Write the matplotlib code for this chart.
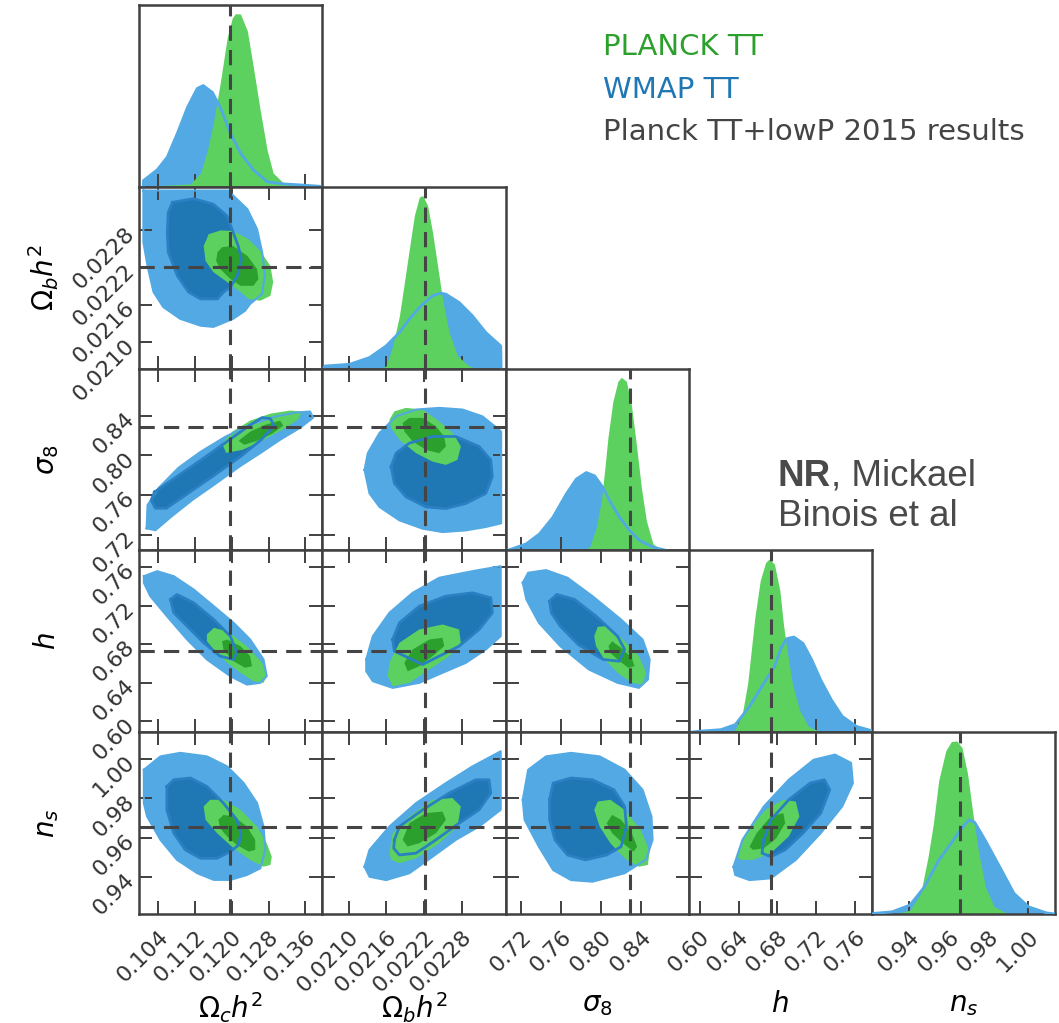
import matplotlib
matplotlib.use('Agg')
import matplotlib.pyplot as plt

# parameters: labels, axis ranges, ticks, reference (Planck 2015) values
labels = [r'$\Omega_c h^2$', r'$\Omega_b h^2$', r'$\sigma_8$', r'$h$', r'$n_s$']
limits = [(0.0999, 0.1397), (0.02058, 0.02350), (0.7043, 0.8873),
          (0.5887, 0.7771), (0.9211, 1.0137)]
ticks = [[0.104, 0.112, 0.120, 0.128, 0.136],
         [0.0210, 0.0216, 0.0222, 0.0228],
         [0.72, 0.76, 0.80, 0.84],
         [0.60, 0.64, 0.68, 0.72, 0.76],
         [0.94, 0.96, 0.98, 1.00]]
tick_text = [['0.104', '0.112', '0.120', '0.128', '0.136'],
             ['0.0210', '0.0216', '0.0222', '0.0228'],
             ['0.72', '0.76', '0.80', '0.84'],
             ['0.60', '0.64', '0.68', '0.72', '0.76'],
             ['0.94', '0.96', '0.98', '1.00']]
truth = [0.1197, 0.02222, 0.829, 0.6731, 0.9655]

# 1D marginals (value, density relative to the Planck peak)
planck_och2 = [(0.1000, 0), (0.1110, 0.017), (0.1132, 0.08), (0.1147, 0.21), (0.1160, 0.37),
               (0.1175, 0.60), (0.1190, 0.86), (0.1201, 0.975), (0.1208, 1.0), (0.1219, 0.998),
               (0.1234, 0.90), (0.1247, 0.69), (0.1262, 0.44), (0.1277, 0.21), (0.1290, 0.08),
               (0.1312, 0.023), (0.1349, 0.011), (0.1397, 0)]
wmap_och2 = [(0.1008, 0), (0.1008, 0.035), (0.1010, 0.040), (0.1038, 0.098), (0.1060, 0.172),
             (0.1082, 0.31), (0.1104, 0.46), (0.1125, 0.568), (0.1138, 0.585), (0.1158, 0.545),
             (0.1175, 0.46), (0.1197, 0.31), (0.1219, 0.195), (0.1247, 0.098), (0.1277, 0.029),
             (0.1312, 0.017), (0.1349, 0.011), (0.1392, 0.003)]
planck_obh2 = [(0.02150, 0), (0.021596, 0.015), (0.021701, 0.131), (0.021808, 0.305),
               (0.021887, 0.498), (0.021966, 0.691), (0.022046, 0.884), (0.022125, 0.991),
               (0.022178, 1.0), (0.022257, 0.942), (0.022336, 0.788), (0.022416, 0.594),
               (0.022495, 0.401), (0.022601, 0.209), (0.022733, 0.073), (0.022919, 0.015),
               (0.02305, 0)]
wmap_obh2 = [(0.02060, 0), (0.020617, 0.015), (0.021014, 0.025), (0.021331, 0.064),
             (0.021596, 0.131), (0.021808, 0.209), (0.021966, 0.286), (0.022152, 0.363),
             (0.022336, 0.421), (0.022470, 0.436), (0.022549, 0.430), (0.022760, 0.382),
             (0.022972, 0.305), (0.023184, 0.209), (0.023423, 0.131), (0.023430, 0)]
planck_s8 = [(0.780, 0), (0.7883, 0.019), (0.7950, 0.134), (0.8000, 0.287), (0.8033, 0.46),
             (0.8066, 0.651), (0.8116, 0.862), (0.8166, 0.977), (0.8200, 1.0), (0.8250, 0.977),
             (0.8300, 0.843), (0.8350, 0.613), (0.8400, 0.364), (0.8450, 0.172),
             (0.8516, 0.038), (0.8583, 0.011), (0.866, 0)]
wmap_s8 = [(0.7043, 0), (0.7083, 0.004), (0.7250, 0.038), (0.7383, 0.096), (0.7516, 0.191),
           (0.7650, 0.326), (0.7750, 0.412), (0.7850, 0.45), (0.7933, 0.431), (0.8016, 0.364),
           (0.8083, 0.287), (0.8183, 0.191), (0.8283, 0.115), (0.8383, 0.057),
           (0.8516, 0.019), (0.8650, 0.0)]
planck_h = [(0.628, 0), (0.6366, 0.015), (0.6440, 0.111), (0.6494, 0.283), (0.6531, 0.474),
            (0.6568, 0.665), (0.6623, 0.876), (0.6678, 0.98), (0.6714, 1.0), (0.6769, 0.971),
            (0.6825, 0.818), (0.6861, 0.627), (0.6898, 0.474), (0.6953, 0.283), (0.7026, 0.13),
            (0.7117, 0.034), (0.7210, 0.011), (0.728, 0)]
wmap_h = [(0.590, 0), (0.6000, 0.006), (0.6219, 0.015), (0.6366, 0.044), (0.6513, 0.149),
          (0.6660, 0.283), (0.6769, 0.378), (0.6842, 0.493), (0.6898, 0.541), (0.6970, 0.55),
          (0.7063, 0.513), (0.7154, 0.417), (0.7245, 0.302), (0.7355, 0.187), (0.7466, 0.092),
          (0.7612, 0.034), (0.7762, 0.01)]
planck_ns = [(0.933, 0), (0.9404, 0.023), (0.9458, 0.119), (0.9495, 0.329), (0.9522, 0.521),
             (0.9549, 0.77), (0.9585, 0.943), (0.9613, 0.996), (0.9640, 1.0), (0.9667, 0.961),
             (0.9695, 0.81), (0.9722, 0.58), (0.9749, 0.368), (0.9785, 0.157), (0.9830, 0.042),
             (0.9893, 0.006), (0.995, 0)]
wmap_ns = [(0.9211, 0), (0.9223, 0.004), (0.9314, 0.013), (0.9404, 0.052), (0.9477, 0.157),
           (0.9549, 0.31), (0.9622, 0.425), (0.9676, 0.511), (0.9703, 0.544), (0.9731, 0.53),
           (0.9785, 0.425), (0.9858, 0.272), (0.9930, 0.119), (1.0003, 0.042),
           (1.0093, 0.007), (1.0137, 0)]

# 2D contours (x = column parameter, y = row parameter): 2 sigma and 1 sigma outlines
# Omega_b h^2 vs Omega_c h^2
wmap2_obh2_och2 = [(0.1008, 0.02344), (0.1192, 0.02344), (0.1234, 0.02314), (0.1255, 0.02282),
                   (0.1266, 0.02245), (0.1272, 0.02210), (0.1266, 0.02178), (0.1240, 0.02162),
                   (0.1229, 0.02151), (0.1203, 0.02138), (0.1160, 0.02125), (0.1132, 0.02127),
                   (0.1088, 0.02138), (0.1051, 0.02157), (0.1030, 0.02181), (0.1017, 0.02223),
                   (0.1008, 0.02261)]
wmap1_obh2_och2 = [(0.1071, 0.02325), (0.1117, 0.02331), (0.1160, 0.02322), (0.1190, 0.02303),
                   (0.1203, 0.02277), (0.1214, 0.02255), (0.1221, 0.02234), (0.1212, 0.02207),
                   (0.1197, 0.02189), (0.1182, 0.02181), (0.1169, 0.02170), (0.1132, 0.02170),
                   (0.1106, 0.02181), (0.1082, 0.02207), (0.1062, 0.02245), (0.1060, 0.02277),
                   (0.1062, 0.02309)]
planck2_obh2_och2 = [(0.1139, 0.02255), (0.1150, 0.02274), (0.1176, 0.02280), (0.1203, 0.02279),
                     (0.1236, 0.02266), (0.1262, 0.02247), (0.1284, 0.02223), (0.1290, 0.02197),
                     (0.1284, 0.02175), (0.1262, 0.02167), (0.1236, 0.02170), (0.1219, 0.02181),
                     (0.1190, 0.02197), (0.1160, 0.02213), (0.1143, 0.02231)]
planck1_obh2_och2 = [(0.1169, 0.02245), (0.1179, 0.02253), (0.1203, 0.02255), (0.1234, 0.02239),
                     (0.1255, 0.02218), (0.1258, 0.02202), (0.1247, 0.02191), (0.1219, 0.02191),
                     (0.1197, 0.02202), (0.1175, 0.02218), (0.1166, 0.02231)]
# sigma_8 vs Omega_c h^2
wmap2_s8_och2 = [(0.1015, 0.7266), (0.1017, 0.7499), (0.1041, 0.7671), (0.1084, 0.7874),
                 (0.1132, 0.8035), (0.1186, 0.8187), (0.1240, 0.8309), (0.1294, 0.8390),
                 (0.1338, 0.8430), (0.1370, 0.8441), (0.1377, 0.8380), (0.1349, 0.8279),
                 (0.1305, 0.8157), (0.1266, 0.8035), (0.1219, 0.7894), (0.1164, 0.7712),
                 (0.1114, 0.7550), (0.1067, 0.7377), (0.1034, 0.7246)]
wmap1_s8_och2 = [(0.1032, 0.7630), (0.1086, 0.7803), (0.1140, 0.7975), (0.1195, 0.8157),
                 (0.1238, 0.8299), (0.1266, 0.8380), (0.1284, 0.8370), (0.1292, 0.8299),
                 (0.1264, 0.8157), (0.1221, 0.7995), (0.1166, 0.7813), (0.1112, 0.7640),
                 (0.1058, 0.7468), (0.1034, 0.7468), (0.1025, 0.7549)]
planck2_s8_och2 = [(0.1179, 0.8116), (0.1201, 0.8238), (0.1240, 0.8349), (0.1284, 0.8420),
                   (0.1327, 0.8451), (0.1353, 0.8441), (0.1344, 0.8360), (0.1310, 0.8258),
                   (0.1266, 0.8147), (0.1223, 0.8055), (0.1188, 0.8025)]
planck1_s8_och2 = [(0.1215, 0.8147), (0.1240, 0.8238), (0.1273, 0.8309), (0.1305, 0.8349),
                   (0.1312, 0.8299), (0.1288, 0.8218), (0.1255, 0.8147), (0.1227, 0.8106)]
# h vs Omega_c h^2
wmap2_h_och2 = [(0.1009, 0.7504), (0.1038, 0.7556), (0.1074, 0.7504), (0.1117, 0.7367),
                (0.1161, 0.7193), (0.1204, 0.7021), (0.1240, 0.6848), (0.1269, 0.6641),
                (0.1276, 0.6468), (0.1262, 0.6399), (0.1233, 0.6381), (0.1197, 0.6468),
                (0.1146, 0.6641), (0.1103, 0.6848), (0.1059, 0.7090), (0.1023, 0.7297),
                (0.1009, 0.7436)]
wmap1_h_och2 = [(0.1067, 0.7263), (0.1081, 0.7315), (0.1117, 0.7229), (0.1161, 0.7055),
                (0.1197, 0.6882), (0.1211, 0.6710), (0.1204, 0.6641), (0.1175, 0.6675),
                (0.1139, 0.6814), (0.1103, 0.6986), (0.1074, 0.7125)]
planck2_h_och2 = [(0.1146, 0.6900), (0.1161, 0.6969), (0.1190, 0.6934), (0.1233, 0.6779),
                  (0.1266, 0.6607), (0.1276, 0.6468), (0.1269, 0.6399), (0.1247, 0.6416),
                  (0.1219, 0.6503), (0.1190, 0.6607), (0.1161, 0.6744), (0.1146, 0.6830)]
planck1_h_och2 = [(0.1179, 0.6830), (0.1190, 0.6848), (0.1219, 0.6779), (0.1240, 0.6675),
                  (0.1244, 0.6571), (0.1229, 0.6555), (0.1204, 0.6623), (0.1182, 0.6744)]
# n_s vs Omega_c h^2
wmap2_ns_och2 = [(0.1009, 0.9946), (0.1045, 1.0014), (0.1088, 1.0032), (0.1146, 1.0014),
                 (0.1190, 0.9963), (0.1226, 0.9878), (0.1255, 0.9776), (0.1269, 0.9657),
                 (0.1273, 0.9538), (0.1262, 0.9444), (0.1233, 0.9410), (0.1197, 0.9385),
                 (0.1161, 0.9385), (0.1125, 0.9419), (0.1081, 0.9487), (0.1045, 0.9589),
                 (0.1016, 0.9708), (0.1009, 0.9776)]
wmap1_ns_och2 = [(0.1059, 0.9861), (0.1074, 0.9895), (0.1110, 0.9904), (0.1146, 0.9861),
                 (0.1182, 0.9776), (0.1211, 0.9691), (0.1220, 0.9623), (0.1215, 0.9563),
                 (0.1197, 0.9529), (0.1168, 0.9495), (0.1132, 0.9495), (0.1099, 0.9538),
                 (0.1074, 0.9623), (0.1059, 0.9742)]
planck2_ns_och2 = [(0.1139, 0.9759), (0.1153, 0.9793), (0.1182, 0.9793), (0.1219, 0.9742),
                   (0.1255, 0.9657), (0.1276, 0.9572), (0.1287, 0.9503), (0.1284, 0.9461),
                   (0.1269, 0.9452), (0.1240, 0.9487), (0.1204, 0.9546), (0.1168, 0.9623),
                   (0.1143, 0.9691)]
planck1_ns_och2 = [(0.1171, 0.9691), (0.1182, 0.9716), (0.1204, 0.9708), (0.1233, 0.9657),
                   (0.1251, 0.9589), (0.1251, 0.9538), (0.1237, 0.9529), (0.1211, 0.9563),
                   (0.1190, 0.9606), (0.1175, 0.9648)]
# sigma_8 vs Omega_b h^2
wmap2_s8_obh2 = [(0.021252, 0.7853), (0.021304, 0.8022), (0.021490, 0.8225), (0.021755, 0.8393),
                 (0.022073, 0.8461), (0.022443, 0.8478), (0.022813, 0.8461), (0.023130, 0.8393),
                 (0.023396, 0.8258), (0.023430, 0.8238), (0.023430, 0.7316), (0.023184, 0.7279),
                 (0.022867, 0.7245), (0.022495, 0.7228), (0.022178, 0.7262), (0.021808, 0.7346),
                 (0.021490, 0.7481), (0.021331, 0.7617)]
wmap1_s8_obh2 = [(0.021676, 0.7886), (0.021755, 0.8022), (0.021966, 0.8123), (0.022336, 0.8190),
                 (0.022708, 0.8190), (0.023078, 0.8089), (0.023264, 0.7954), (0.023289, 0.7785),
                 (0.023184, 0.7617), (0.022867, 0.7516), (0.022549, 0.7465), (0.022232, 0.7481),
                 (0.021914, 0.7582), (0.021728, 0.7718)]
planck2_s8_obh2 = [(0.021649, 0.8359), (0.021728, 0.8443), (0.021914, 0.8478), (0.022178, 0.8461),
                   (0.022443, 0.8342), (0.022681, 0.8207), (0.022787, 0.8089), (0.022733, 0.7954),
                   (0.022549, 0.7904), (0.022336, 0.7937), (0.022073, 0.8022), (0.021808, 0.8157),
                   (0.021676, 0.8275)]
planck1_s8_obh2 = [(0.021860, 0.8326), (0.021966, 0.8377), (0.022178, 0.8377), (0.022390, 0.8292),
                   (0.022522, 0.8190), (0.022549, 0.8089), (0.022443, 0.8022), (0.022232, 0.8055),
                   (0.022019, 0.8140), (0.021887, 0.8241)]
# h vs Omega_b h^2
wmap2_h_obh2 = [(0.021279, 0.6641), (0.021384, 0.6882), (0.021649, 0.7125), (0.022019, 0.7332),
                (0.022443, 0.7488), (0.022972, 0.7556), (0.023423, 0.7608), (0.023423, 0.6882),
                (0.023184, 0.6744), (0.022867, 0.6606), (0.022495, 0.6503), (0.022125, 0.6399),
                (0.021701, 0.6347), (0.021384, 0.6416), (0.021279, 0.6519)]
wmap1_h_obh2 = [(0.021701, 0.6848), (0.021808, 0.7021), (0.022125, 0.7193), (0.022549, 0.7297),
                (0.022972, 0.7332), (0.023264, 0.7280), (0.023289, 0.7125), (0.023078, 0.6952),
                (0.022760, 0.6779), (0.022178, 0.6589), (0.021728, 0.6727)]
planck2_h_obh2 = [(0.021649, 0.6606), (0.021808, 0.6814), (0.022125, 0.6952), (0.022495, 0.7004),
                  (0.022760, 0.6952), (0.022787, 0.6814), (0.022601, 0.6675), (0.022284, 0.6537),
                  (0.021966, 0.6399), (0.021701, 0.6364), (0.021622, 0.6467)]
planck1_h_obh2 = [(0.021887, 0.6606), (0.022019, 0.6744), (0.022284, 0.6848), (0.022495, 0.6866),
                  (0.022522, 0.6779), (0.022336, 0.6675), (0.022125, 0.6571), (0.021939, 0.6519)]
# n_s vs Omega_b h^2
wmap2_ns_obh2 = [(0.021252, 0.9452), (0.021331, 0.9538), (0.021649, 0.9657), (0.022073, 0.9776),
                 (0.022549, 0.9878), (0.022972, 0.9963), (0.023423, 1.0040), (0.023423, 0.9742),
                 (0.023078, 0.9657), (0.022708, 0.9589), (0.022336, 0.9503), (0.021966, 0.9419),
                 (0.021596, 0.9384), (0.021331, 0.9401)]
wmap1_ns_obh2 = [(0.021728, 0.9589), (0.021808, 0.9657), (0.022178, 0.9742), (0.022601, 0.9827),
                 (0.023026, 0.9895), (0.023237, 0.9895), (0.023264, 0.9827), (0.023078, 0.9742),
                 (0.022760, 0.9674), (0.022390, 0.9589), (0.022073, 0.9521), (0.021808, 0.9512),
                 (0.021717, 0.9546)]
planck2_ns_obh2 = [(0.021649, 0.9521), (0.021701, 0.9623), (0.021966, 0.9708), (0.022336, 0.9793),
                   (0.022654, 0.9802), (0.022787, 0.9759), (0.022733, 0.9657), (0.022443, 0.9572),
                   (0.022073, 0.9495), (0.021808, 0.9470), (0.021676, 0.9487)]
planck1_ns_obh2 = [(0.021860, 0.9589), (0.021966, 0.9674), (0.022232, 0.9725), (0.022495, 0.9733),
                   (0.022549, 0.9691), (0.022390, 0.9623), (0.022125, 0.9572), (0.021939, 0.9555)]
# h vs sigma_8
wmap2_h_s8 = [(0.7215, 0.7436), (0.7269, 0.7540), (0.7447, 0.7567), (0.7662, 0.7488),
              (0.7912, 0.7297), (0.8197, 0.7055), (0.8412, 0.6848), (0.8483, 0.6641),
              (0.8465, 0.6433), (0.8376, 0.6347), (0.8162, 0.6399), (0.7876, 0.6537),
              (0.7590, 0.6779), (0.7376, 0.7021), (0.7251, 0.7263)]
wmap1_h_s8 = [(0.7483, 0.7245), (0.7554, 0.7315), (0.7733, 0.7263), (0.7947, 0.7090),
              (0.8162, 0.6882), (0.8233, 0.6744), (0.8179, 0.6623), (0.8019, 0.6641),
              (0.7769, 0.6796), (0.7590, 0.6986), (0.7501, 0.7125)]
planck2_h_s8 = [(0.7929, 0.6882), (0.7965, 0.6980), (0.8054, 0.6986), (0.8197, 0.6866),
                (0.8376, 0.6675), (0.8447, 0.6503), (0.8412, 0.6381), (0.8304, 0.6399),
                (0.8162, 0.6503), (0.8019, 0.6658), (0.7947, 0.6779)]
planck1_h_s8 = [(0.8072, 0.6779), (0.8108, 0.6830), (0.8197, 0.6762), (0.8304, 0.6658),
                (0.8333, 0.6571), (0.8269, 0.6555), (0.8162, 0.6641), (0.8090, 0.6710)]
# n_s vs sigma_8
wmap2_ns_s8 = [(0.7215, 0.9793), (0.7269, 0.9946), (0.7447, 1.0014), (0.7697, 1.0032),
               (0.7983, 1.0014), (0.8233, 0.9946), (0.8412, 0.9844), (0.8501, 0.9708),
               (0.8512, 0.9589), (0.8447, 0.9489), (0.8233, 0.9419), (0.7912, 0.9376),
               (0.7697, 0.9384), (0.7519, 0.9435), (0.7376, 0.9554), (0.7233, 0.9691)]
wmap1_ns_s8 = [(0.7483, 0.9793), (0.7519, 0.9878), (0.7697, 0.9904), (0.7912, 0.9895),
               (0.8126, 0.9844), (0.8233, 0.9759), (0.8251, 0.9657), (0.8197, 0.9554),
               (0.8054, 0.9512), (0.7840, 0.9487), (0.7662, 0.9512), (0.7537, 0.9589),
               (0.7483, 0.9691)]
planck2_ns_s8 = [(0.7929, 0.9742), (0.7965, 0.9784), (0.8090, 0.9793), (0.8233, 0.9742),
                 (0.8394, 0.9640), (0.8483, 0.9529), (0.8465, 0.9461), (0.8376, 0.9452),
                 (0.8233, 0.9495), (0.8090, 0.9572), (0.7983, 0.9657)]
planck1_ns_s8 = [(0.8054, 0.9674), (0.8108, 0.9716), (0.8197, 0.9691), (0.8304, 0.9623),
                 (0.8358, 0.9554), (0.8322, 0.9529), (0.8215, 0.9572), (0.8108, 0.9623)]
# n_s vs h
wmap2_ns_h = [(0.6348, 0.9452), (0.6440, 0.9589), (0.6660, 0.9759), (0.6916, 0.9895),
              (0.7173, 0.9997), (0.7392, 1.0023), (0.7557, 0.9981), (0.7576, 0.9878),
              (0.7466, 0.9759), (0.7245, 0.9623), (0.6989, 0.9487), (0.6732, 0.9393),
              (0.6513, 0.9384), (0.6366, 0.9410)]
wmap1_ns_h = [(0.6660, 0.9589), (0.6732, 0.9691), (0.6916, 0.9793), (0.7136, 0.9878),
              (0.7282, 0.9895), (0.7338, 0.9844), (0.7245, 0.9725), (0.7063, 0.9623),
              (0.6879, 0.9538), (0.6732, 0.9503), (0.6641, 0.9521)]
planck2_ns_h = [(0.6385, 0.9503), (0.6476, 0.9623), (0.6678, 0.9742), (0.6861, 0.9793),
                (0.6989, 0.9784), (0.7026, 0.9708), (0.6916, 0.9606), (0.6732, 0.9521),
                (0.6550, 0.9487), (0.6422, 0.9487)]
planck1_ns_h = [(0.6513, 0.9554), (0.6586, 0.9623), (0.6732, 0.9708), (0.6861, 0.9725),
                (0.6879, 0.9674), (0.6788, 0.9597), (0.6660, 0.9546), (0.6550, 0.9538)]

LIGHT_BLUE = '#52a9e3'
DARK_BLUE = '#1f77b4'
LIGHT_GREEN = '#5cd15f'
DARK_GREEN = '#2ca02c'
FRAME = '#404040'
TRUTH = '#444444'

marginals = [(wmap_och2, planck_och2), (wmap_obh2, planck_obh2), (wmap_s8, planck_s8),
             (wmap_h, planck_h), (wmap_ns, planck_ns)]
contours = {
    (1, 0): (wmap2_obh2_och2, wmap1_obh2_och2, planck2_obh2_och2, planck1_obh2_och2),
    (2, 0): (wmap2_s8_och2, wmap1_s8_och2, planck2_s8_och2, planck1_s8_och2),
    (3, 0): (wmap2_h_och2, wmap1_h_och2, planck2_h_och2, planck1_h_och2),
    (4, 0): (wmap2_ns_och2, wmap1_ns_och2, planck2_ns_och2, planck1_ns_och2),
    (2, 1): (wmap2_s8_obh2, wmap1_s8_obh2, planck2_s8_obh2, planck1_s8_obh2),
    (3, 1): (wmap2_h_obh2, wmap1_h_obh2, planck2_h_obh2, planck1_h_obh2),
    (4, 1): (wmap2_ns_obh2, wmap1_ns_obh2, planck2_ns_obh2, planck1_ns_obh2),
    (3, 2): (wmap2_h_s8, wmap1_h_s8, planck2_h_s8, planck1_h_s8),
    (4, 2): (wmap2_ns_s8, wmap1_ns_s8, planck2_ns_s8, planck1_ns_s8),
    (4, 3): (wmap2_ns_h, wmap1_ns_h, planck2_ns_h, planck1_ns_h),
}


def fill_poly(ax, pts, color, z):
    xs, ys = zip(*pts)
    ax.fill(xs, ys, color=color, lw=0, zorder=z)


def outline(ax, pts, color, lw, z):
    xs, ys = zip(*(pts + pts[:1]))
    ax.plot(xs, ys, color=color, lw=lw, zorder=z)


fig = plt.figure(figsize=(10.59, 10.23), dpi=100)
gs = fig.add_gridspec(5, 5, left=0.1315, right=0.9962, top=0.9951, bottom=0.1065,
                      wspace=0, hspace=0)
n = len(labels)
for i in range(n):
    for j in range(i + 1):
        ax = fig.add_subplot(gs[i, j])
        ax.set_xlim(limits[j])
        ax.set_xticks(ticks[j])
        ax.set_xticklabels(tick_text[j])
        if i == j:
            wm, pl = marginals[i]
            wx, wy = zip(*wm)
            px, py = zip(*pl)
            ax.fill_between(wx, wy, color=LIGHT_BLUE, lw=0, zorder=1)
            ax.fill_between(px, py, color=LIGHT_GREEN, lw=0, zorder=2)
            ax.plot(wx, wy, color=LIGHT_BLUE, lw=2, zorder=3)
            ax.axvline(truth[j], color=TRUTH, lw=2.2, ls=(0, (5, 3)), zorder=10)
            ax.set_ylim(0, 1.05)
            ax.set_yticks([])
            ax.tick_params(axis='x', direction='in', length=9.5, width=1.4, color=FRAME,
                           top=False, labelsize=16, labelcolor='#333333', pad=9)
        else:
            w2, w1, p2, p1 = contours[(i, j)]
            fill_poly(ax, w2, LIGHT_BLUE, 1)
            fill_poly(ax, w1, DARK_BLUE, 2)
            fill_poly(ax, p2, LIGHT_GREEN, 3)
            fill_poly(ax, p1, DARK_GREEN, 4)
            outline(ax, w2, LIGHT_BLUE, 1.5, 5)
            outline(ax, w1, '#2a80c2', 2, 6)
            ax.axvline(truth[j], color=TRUTH, lw=2.2, ls=(0, (5, 3)), zorder=10)
            ax.axhline(truth[i], color=TRUTH, lw=2.2, ls=(0, (5, 3)), zorder=10)
            ax.set_ylim(limits[i])
            ax.set_yticks(ticks[i])
            ax.set_yticklabels(tick_text[i])
            ax.tick_params(direction='in', length=9.5, width=1.4, color=FRAME,
                           top=True, right=True, labelsize=16, labelcolor='#333333')
            ax.tick_params(axis='x', pad=9)
            ax.tick_params(axis='y', pad=6)
        for sp in ax.spines.values():
            sp.set_linewidth(1.8)
            sp.set_color(FRAME)
        if i < n - 1:
            ax.tick_params(labelbottom=False)
        else:
            plt.setp(ax.get_xticklabels(), rotation=45, ha='right', va='top',
                     rotation_mode='anchor')
            ax.set_xlabel(labels[j], fontsize=20)
            ax.xaxis.set_label_coords(0.5, -0.42)
        if j > 0 or i == 0:
            ax.tick_params(labelleft=False)
        else:
            plt.setp(ax.get_yticklabels(), rotation=45, ha='right', va='center',
                     rotation_mode='anchor')
            ax.set_ylabel(labels[i], fontsize=20)
            ax.yaxis.set_label_coords(-0.43, 0.5)

# legend-like labels
fig.text(603 / 1059, 1 - 55 / 1023, 'PLANCK TT', color=DARK_GREEN, fontsize=21, va='baseline')
fig.text(603 / 1059, 1 - 98 / 1023, 'WMAP TT', color=DARK_BLUE, fontsize=21, va='baseline')
fig.text(603 / 1059, 1 - 140 / 1023, 'Planck TT+lowP 2015 results', color='#444444',
         fontsize=21, va='baseline')

# author note
nr = fig.text(778 / 1059, 1 - 486 / 1023, 'NR', family='Liberation Sans', weight='bold',
              color='#4a4a4a', fontsize=26.5, va='baseline')
fig.canvas.draw()
bb = nr.get_window_extent()
fig.text(bb.x1 / fig.bbox.width, 1 - 486 / 1023, ', Mickael', family='Liberation Sans',
         color='#4a4a4a', fontsize=26.5, va='baseline')
fig.text(778 / 1059, 1 - 526 / 1023, 'Binois et al', family='Liberation Sans',
         color='#4a4a4a', fontsize=26.5, va='baseline')

fig.savefig('out.png', dpi=100)
